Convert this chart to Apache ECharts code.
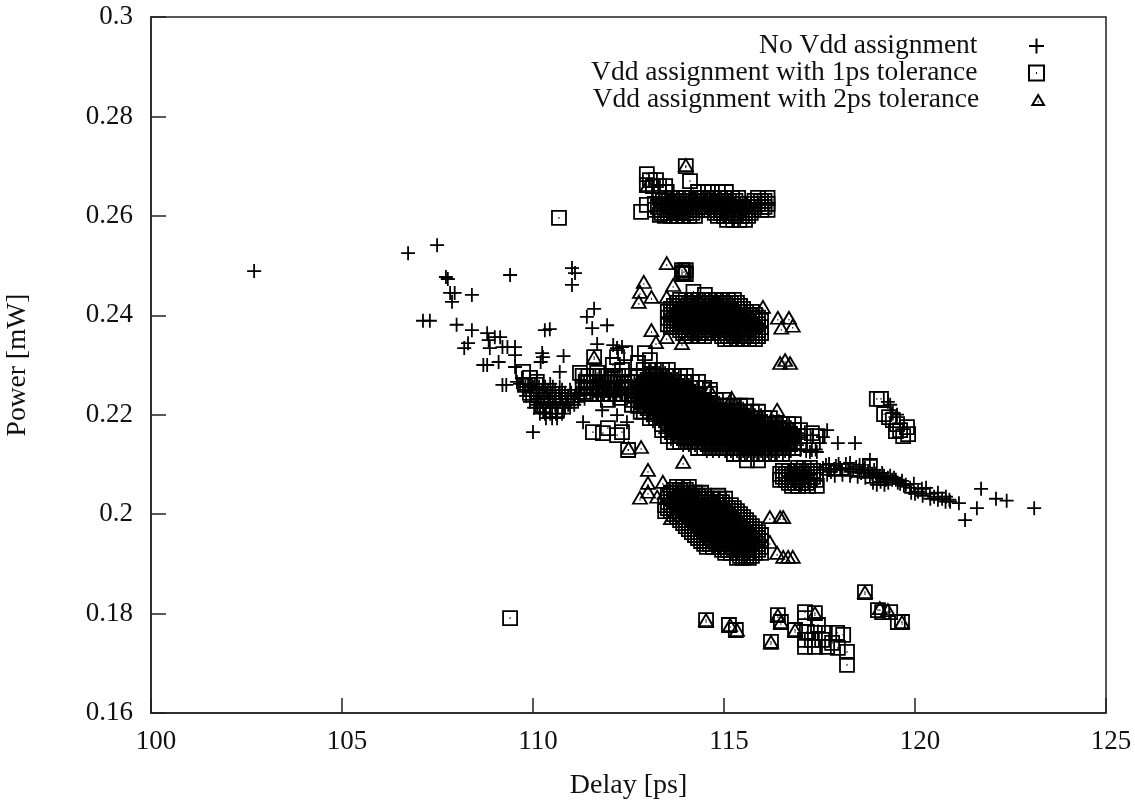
<!DOCTYPE html>
<html><head><meta charset="utf-8">
<style>html,body{margin:0;background:#fff}#c{width:1135px;height:801px}</style>
<script src="https://cdn.jsdelivr.net/npm/echarts@6/dist/echarts.min.js"></script></head>
<body><div id="c"></div>
<script>
const xTitle='Delay [ps]', yTitle='Power [mW]';
const names=['No Vdd assignment','Vdd assignment with 1ps tolerance','Vdd assignment with 2ps tolerance'];
// sparse readings: [delay, power]
const plusSparse=[[102.7,.2489],[106.73,.2525],[107.49,.2541],[107.72,.2477],[107.77,.2473],[107.83,.2445],[108.4,.2441],[107.88,.2427],[107.95,.2445],[107.12,.2389],[107.3,.2389],[108,.2381],[108.4,.237],[108.3,.2344],[108.2,.2334],[108.8,.2364],[108.84,.235],[109,.2356],[109.14,.2356],[108.87,.2334],[109.4,.2481],[111.02,.2495],[111.1,.2485],[111.02,.2461],[110.31,.237],[110.44,.2372],[111.6,.2413],[111.41,.2397],[111.55,.2374],[111.94,.238],[111.68,.2342],[112.1,.234],[112.33,.2336],[109.53,.2336],[109.53,.232],[109.2,.2336],[109.33,.2336],[109.1,.2306],[108.7,.23],[108.8,.23],[109.53,.2296],[110.24,.2324],[110.26,.2316],[110.2,.2306],[110.8,.2318],[110.7,.2286],[109.2,.226],[109.3,.226],[109.58,.2266],[110,.2165],[111.31,.2185],[111.81,.2209],[112.46,.2185],[112.2,.2199],[112.2,.2334],[117.7,.2169],[117.59,.2155],[117.98,.2143],[118.43,.2143],[117.25,.2125],[117.43,.2125],[117.51,.2143],[117.33,.2159],[117,.2129],[117.15,.2127],[117.3,.2129],[117.4,.213],[119.29,.2226],[119.35,.222],[119.42,.2204],[119.53,.22],[121.15,.2022],[120.92,.2025],[121.31,.1988],[121.62,.2012],[121.73,.2051],[122.12,.2031],[122.4,.2027],[123.12,.2012]];
const plusTail=[[117.51,.2089],[117.67,.2099],[117.8,.2085],[117.93,.2097],[118.09,.2089],[118.19,.2101],[118.32,.2085],[118.46,.2095],[118.59,.2083],[118.69,.2093],[118.82,.2109],[118.82,.2077],[118.93,.2089],[119.03,.2073],[119.14,.2083],[119.24,.2069],[119.35,.2077],[119.45,.2073],[119.55,.2063],[119.66,.2067],[119.76,.2059],[119.87,.2053],[119.97,.2061],[120.08,.2045],[120.18,.2051],[120.29,.2053],[120.39,.2041],[120.5,.2035],[120.6,.2043],[120.71,.2031],[120.81,.2035],[117.59,.2093],[117.75,.2089],[117.88,.2091],[118.04,.2093],[118.25,.2091],[118.38,.2091],[118.54,.2089],[118.65,.2089],[118.77,.2087],[118.88,.2081],[118.98,.2081],[119.08,.2077],[119.19,.2077],[119.29,.2073],[119.4,.2069],[119.5,.2069],[119.61,.2061],[119.71,.2057],[118.9,.2063],[119,.2059],[119.1,.2065],[119.2,.2059],[119.3,.2063],[119.9,.2043],[120,.2041],[120.2,.2037],[120.4,.2031],[120.6,.2029],[120.8,.2025],[120.9,.2029],[117.75,.2101],[118,.2101],[118.3,.2103],[118.55,.2099],[117.7,.2079],[117.9,.2077],[118.1,.2079],[118.3,.2077],[118.5,.2075],[118.7,.2073]];
// dense readings: [power, delay, delay, ...]
const plusBandRows=[[.2274,109.71,109.92,110.1],[.2262,109.66,109.87,110.05,110.26,110.45],[.2256,109.8,110,110.16,110.32,110.52,110.7,111.4,111.55,111.7,111.86,112,112.16,112.31],[.225,109.76,109.92,110.08,110.24,110.39,110.58,110.76,110.97],[.2244,110.02,110.18,110.35,110.5,110.68,110.84,111,111.15,111.4,111.55,111.7,111.86,112,112.16,112.31,112.47],[.2238,109.82,109.95,110.1,110.29,110.45,110.6,110.76,110.92,111.1,111.23],[.2232,110.15,110.3,110.42,110.57,110.72,110.9,111.05,111.2,111.35],[.2226,109.92,110.08,110.21,110.39,110.52,110.71,110.86,110.99,111.18],[.222,110.12,110.27,110.44,110.58,110.78,110.92,111.08],[.2214,110.03,110.18,110.34,110.5,110.65,110.84,110.97],[.2202,110.18,110.31,110.45,110.6,110.76],[.2193,110.34,110.5,110.63]];
const plusMainRows=[[.2284,112.98,113.14,113.3,113.46],[.2272,112.82,112.98,113.14,113.3,113.46,113.61,113.77],[.226,112.67,112.82,112.98,113.14,113.3,113.46,113.61,113.77,113.93,114.08],[.2248,112.67,112.82,112.98,113.14,113.3,113.46,113.61,113.77,113.93,114.08,114.24],[.2236,112.67,112.82,112.98,113.14,113.3,113.46,113.61,113.77,113.93,114.08,114.24,114.4],[.2224,112.67,112.82,112.98,113.14,113.3,113.46,113.61,113.77,113.93,114.08,114.24,114.4,114.55,114.71,114.87],[.2212,112.82,112.98,113.14,113.3,113.46,113.61,113.77,113.93,114.08,114.24,114.4,114.55,114.71,114.87,115.03,115.18,115.34,115.5],[.2199,112.98,113.14,113.3,113.46,113.61,113.77,113.93,114.08,114.24,114.4,114.55,114.71,114.87,115.03,115.18,115.34,115.5,115.65,115.81,115.97],[.2187,113.14,113.3,113.46,113.61,113.77,113.93,114.08,114.24,114.4,114.55,114.71,114.87,115.03,115.18,115.34,115.5,115.65,115.81,115.97,116.13,116.28,116.44],[.2175,113.46,113.61,113.77,113.93,114.08,114.24,114.4,114.55,114.71,114.87,115.03,115.18,115.34,115.5,115.65,115.81,115.97,116.13,116.28,116.44,116.6,116.75],[.2163,113.46,113.61,113.77,113.93,114.08,114.24,114.4,114.55,114.71,114.87,115.03,115.18,115.34,115.5,115.65,115.81,115.97,116.13,116.28,116.44,116.6,116.75,116.91],[.2151,113.61,113.77,113.93,114.08,114.24,114.4,114.55,114.71,114.87,115.03,115.18,115.34,115.5,115.65,115.81,115.97,116.13,116.28,116.44,116.6,116.75,116.91],[.2139,113.93,114.08,114.24,114.4,114.55,114.71,114.87,115.03,115.18,115.34,115.5,115.65,115.81,115.97,116.13,116.28,116.44,116.6,116.75,116.91],[.2127,114.55,114.71,114.87,115.03,115.18,115.34,115.5,115.65,115.81,115.97,116.13,116.28,116.44,116.6,116.75]];
const squareSparse=[[110.68,.2596],[109.4,.1791],[112.98,.2684],[112.98,.2662],[114,.27],[114.11,.267],[112.83,.2608],[112.98,.2622],[113.32,.2602],[113.9,.2491],[114,.2491],[113.95,.2487],[113.9,.2483],[114,.2483],[114.2,.2447],[114.5,.2441],[109.74,.2286],[109.92,.2274],[109.79,.226],[110.1,.2266],[109.92,.2244],[110.45,.2209],[110.63,.2209],[110.26,.2219],[114.53,.1787],[115.13,.1777],[115.31,.1767],[116.23,.1743],[116.41,.1797],[116.49,.1783],[117.12,.1803],[117.38,.1801],[116.86,.1767],[117.12,.1791],[117.17,.1763],[117.12,.1733],[117.38,.1761],[117.38,.1733],[117.64,.1761],[117.7,.1733],[117.96,.1761],[118.12,.1757],[117.98,.1731],[118.22,.1723],[118.22,.1697],[117.57,.1747],[117.83,.1741],[117.3,.1747],[117.12,.1747],[117.46,.1777],[118.69,.1843],[119.03,.1807],[119.14,.1803],[119.35,.1803],[119.55,.1783],[119.66,.1783],[111.6,.2316],[112.2,.2316],[112.41,.2324],[112.93,.2324],[111.23,.2284],[111.41,.2264],[111.68,.2284],[111.94,.2266],[112.15,.2276],[112.33,.229],[111.75,.225],[112.09,.225],[112.41,.2256],[111.96,.223],[112.28,.2234],[112.59,.222],[112.75,.2304],[113.06,.231],[112.09,.23],[111.57,.2165],[111.96,.2173],[112.33,.2165],[112.2,.2159],[112.49,.2129],[111.83,.2163],[119,.2232],[119.11,.2232],[119.19,.2201],[119.32,.2195],[119.42,.2189],[119.53,.2181],[119.61,.2169],[119.79,.2175],[119.82,.2161],[119.69,.2157],[119.5,.2167],[118.82,.2097],[114.63,.2250],[117.15,.2157],[117.3,.2163],[117.45,.2157]];
const squareLeftRows=[[.2278,111.3,111.45,111.6,111.76,111.92,112.08,112.23,112.39],[.2266,111.38,111.52,111.68,111.84,112,112.16,112.31,112.47],[.2254,111.3,111.45,111.6,111.76,111.92,112.08,112.23,112.39],[.2242,111.38,111.52,111.68,111.84,112,112.16,112.31,112.47]];
const squareTopRows=[[.2672,113.06,113.22],[.266,113.14,113.3,113.46],[.2648,113.3,113.5,114.32,114.58,114.84,115.05],[.2636,113.32,113.48,113.64,113.8,113.95,114.11,114.27,114.43,114.58,114.74,114.9,115.05,115.21,115.37,115.89,116.14],[.263,113.4,113.56,113.72,113.88,114.03,114.19,114.35,114.5,114.66,114.82,114.98,115.13,115.3,115.8,115.97,116.06],[.2624,113.19,113.35,113.51,113.67,113.83,113.98,114.14,114.3,114.45,114.61,114.77,114.93,115.09,115.24,115.4,115.72,115.89,116.14],[.2618,113.27,113.43,113.59,113.75,113.9,114.06,114.22,114.37,114.53,114.69,114.85,115.01,115.16,115.32,115.48,115.64,115.8,115.98,116.06],[.2612,113.19,113.35,113.51,113.67,113.83,113.98,114.14,114.3,114.45,114.61,114.77,114.93,115.09,115.24,115.4,115.55,115.72,115.98,116.14],[.2606,113.37,113.53,113.69,113.85,114.01,114.17,114.76,114.92,115.08,115.24,115.4,115.55,115.7],[.26,113.45,113.61,113.77,113.93,114.09,114.24,114.84,115,115.16,115.31,115.47,115.63],[.2592,115.08,115.24,115.4,115.55]];
const squareUpperRows=[[.2431,113.85,114,114.16,114.32,114.48,114.63,114.79,114.95,115.1,115.26],[.2425,113.77,113.93,114.08,114.24,114.4,114.55,114.71,114.87,115.03,115.18,115.34],[.2419,113.69,113.85,114,114.16,114.32,114.48,114.63,114.79,114.95,115.1,115.26,115.42],[.2413,113.61,113.77,113.93,114.08,114.24,114.4,114.55,114.71,114.87,115.03,115.18,115.34,115.5],[.2407,113.53,113.69,113.85,114,114.16,114.32,114.48,114.63,114.79,114.95,115.1,115.26,115.42,115.58,115.73],[.2401,113.61,113.77,113.93,114.08,114.24,114.4,114.55,114.71,114.87,115.03,115.18,115.34,115.5,115.65,115.81],[.2395,113.53,113.69,113.85,114,114.16,114.32,114.48,114.63,114.79,114.95,115.1,115.26,115.42,115.58,115.73,115.89],[.2389,113.61,113.77,113.93,114.08,114.24,114.4,114.55,114.71,114.87,115.03,115.18,115.34,115.5,115.65,115.81,115.97],[.2382,113.53,113.69,113.85,114,114.16,114.32,114.48,114.63,114.79,114.95,115.1,115.26,115.42,115.58,115.73,115.89],[.2376,113.61,113.77,113.93,114.08,114.24,114.4,114.55,114.71,114.87,115.03,115.18,115.34,115.5,115.65,115.81,115.97],[.237,113.85,114,114.16,114.32,114.48,114.63,114.79,114.95,115.1,115.26,115.42,115.58,115.73,115.89],[.2364,113.93,114.08,114.24,114.4,114.55,114.71,114.87,115.03,115.18,115.34,115.5,115.65,115.81,115.97],[.2358,114,114.16,114.32,114.48,114.95,115.1,115.26,115.42,115.58,115.73,115.89],[.2352,115.03,115.18,115.34,115.5,115.65,115.81]];
const squareMainRows=[[.229,112.9,113.06,113.22,113.38,113.53],[.2278,112.75,112.9,113.06,113.22,113.38,113.53,113.69,113.85,114],[.2266,112.59,112.75,112.9,113.06,113.22,113.38,113.53,113.69,113.85,114,114.16,114.32],[.2254,112.59,112.75,112.9,113.06,113.22,113.38,113.53,113.69,113.85,114,114.16,114.32,114.48],[.2242,112.59,112.75,112.9,113.06,113.22,113.38,113.53,113.69,113.85,114,114.16,114.32,114.48,114.63],[.223,112.59,112.75,112.9,113.06,113.22,113.38,113.53,113.69,113.85,114,114.16,114.32,114.48,114.63,114.79,115],[.2218,112.75,112.9,113.06,113.22,113.38,113.53,113.69,113.85,114,114.16,114.32,114.48,114.63,114.79,114.95,115.1,115.26,115.42,115.58],[.2206,112.82,112.9,113.06,113.22,113.38,113.53,113.69,113.85,114,114.16,114.32,114.48,114.63,114.79,114.95,115.1,115.26,115.42,115.58,115.73,115.89],[.2193,113.06,113.22,113.38,113.53,113.69,113.85,114,114.16,114.32,114.48,114.63,114.79,114.95,115.1,115.26,115.42,115.58,115.73,115.89,116.05,116.2],[.2181,113.38,113.53,113.69,113.85,114,114.16,114.32,114.48,114.63,114.79,114.95,115.1,115.26,115.42,115.58,115.73,115.89,116.05,116.2,116.36,116.52,116.68,116.83],[.2169,113.38,113.53,113.69,113.85,114,114.16,114.32,114.48,114.63,114.79,114.95,115.1,115.26,115.42,115.58,115.73,115.89,116.05,116.2,116.36,116.52,116.68,116.83,116.99],[.2157,113.53,113.69,113.85,114,114.16,114.32,114.48,114.63,114.79,114.95,115.1,115.26,115.42,115.58,115.73,115.89,116.05,116.2,116.36,116.52,116.68,116.83,116.99],[.2145,113.69,113.85,114,114.16,114.32,114.48,114.63,114.79,114.95,115.1,115.26,115.42,115.58,115.73,115.89,116.05,116.2,116.36,116.52,116.68,116.83,116.99],[.2133,114.32,114.48,114.63,114.79,114.95,115.1,115.26,115.42,115.58,115.73,115.89,116.05,116.2,116.36,116.52,116.68,116.83],[.2121,115.26,115.42,115.58,115.73,115.89,116.05,116.2,116.36,116.52],[.2108,115.6,115.89]];
const squareLowerRows=[[.2055,113.77,113.93,114.08],[.2049,113.69,113.85,114],[.2043,113.61,113.77,113.93,114.08,114.24,114.4],[.2037,113.53,113.69,113.85,114,114.16,114.32,114.48,114.85],[.2031,113.61,113.77,113.93,114.08,114.24,114.4,114.55,114.71,114.87,115.03],[.2024,113.53,113.69,113.85,114,114.16,114.32,114.48,114.63,114.79,114.95],[.2018,113.46,113.61,113.77,113.93,114.08,114.24,114.4,114.55,114.71,114.87,115.03,115.18],[.2012,113.53,113.69,113.85,114,114.16,114.32,114.48,114.63,114.79,114.95,115.1,115.26],[.2006,113.46,113.61,113.77,113.93,114.08,114.24,114.4,114.55,114.71,114.87,115.03,115.18,115.34],[.2,113.69,113.85,114,114.16,114.32,114.48,114.63,114.79,114.95,115.1,115.26,115.42],[.1994,113.77,113.93,114.08,114.24,114.4,114.55,114.71,114.87,115.03,115.18,115.34,115.5],[.1988,113.85,114,114.16,114.32,114.48,114.63,114.79,114.95,115.1,115.26,115.42,115.58],[.1982,113.93,114.08,114.24,114.4,114.55,114.71,114.87,115.03,115.18,115.34,115.5,115.65],[.1976,114,114.16,114.32,114.48,114.63,114.79,114.95,115.1,115.26,115.42,115.58,115.73],[.197,114.08,114.24,114.4,114.55,114.71,114.87,115.03,115.18,115.34,115.5,115.65,115.81],[.1964,114.16,114.32,114.48,114.63,114.79,114.95,115.1,115.26,115.42,115.58,115.73,115.89],[.1958,114.24,114.4,114.55,114.71,114.87,115.03,115.18,115.34,115.5,115.65,115.81,115.97],[.1952,114.32,114.48,114.63,114.79,114.95,115.1,115.26,115.42,115.58,115.73,115.89],[.1946,114.4,114.55,114.71,114.87,115.03,115.18,115.34,115.5,115.65,115.81,115.97],[.194,114.48,114.63,114.79,114.95,115.1,115.26,115.42,115.58,115.73,115.89],[.1934,114.55,114.71,114.87,115.03,115.18,115.34,115.5,115.65,115.81,115.97],[.1928,114.95,115.1,115.26,115.42,115.58,115.73,115.89],[.1922,115.03,115.18,115.34,115.5,115.65,115.81,115.97],[.1916,115.42,115.58,115.73],[.1912,115.34,115.5,115.65]];
const squareTailRows=[[.2093,116.94,117.09,117.25],[.2087,116.54,116.7,116.86,117.02,117.17,117.33],[.2081,116.47,116.62,116.78,116.94,117.09,117.25,117.41],[.2075,116.54,116.7,116.86,117.02,117.17,117.33],[.2069,116.47,116.62,116.78,116.94,117.09,117.25,117.41],[.2063,116.7,116.86,117.02,117.17],[.2057,116.78,116.94,117.2,117.43]];
const triangleSparse=[[113.5,.2505],[112.9,.2467],[112.8,.2447],[112.77,.2427],[113.1,.2437],[113.1,.237],[113.22,.2346],[113.5,.2356],[113.9,.2344],[116.02,.2417],[116.41,.2395],[116.7,.2395],[116.5,.2375],[116.8,.2379],[113.67,.2461],[113.9,.2491],[113.5,.2437],[114,.2702],[114.5,.2616],[114.2,.2638],[113,.2662],[116.6,.231],[116.47,.2304],[116.73,.2304],[114.63,.225],[115.2,.2234],[116.39,.221],[111.6,.2316],[112.83,.2135],[112.5,.2133],[113.01,.2089],[113.01,.2063],[113.4,.2065],[113.01,.2045],[112.8,.2033],[113.25,.2035],[113.46,.2043],[113.61,.1992],[113.93,.2105],[116.2,.1994],[116.47,.1994],[116.55,.1994],[116.2,.1944],[116.39,.1922],[116.68,.1914],[116.55,.1914],[116.8,.1914],[114.53,.1787],[115.16,.1777],[115.34,.1767],[116.23,.1743],[116.41,.1797],[116.49,.1783],[117.38,.1801],[116.86,.1767],[118.69,.1843],[119.08,.1811],[119.29,.1807],[119.66,.1783]];

const expand=rows=>rows.flatMap(r=>r.slice(1).map(x=>[x,r[0]]));
const plusData=[...plusSparse,...plusTail,...expand(plusBandRows),...expand(plusMainRows)];
const squareData=[...squareSparse,...[squareLeftRows,squareTopRows,squareUpperRows,squareMainRows,squareLowerRows,squareTailRows].flatMap(expand)];
const triangleData=triangleSparse;

const font='"Liberation Serif"', fs=27, ink='#111';
const mark={color:'transparent',borderColor:'#000',borderWidth:1.8,opacity:1};
const sym=['path://M7,0V14M0,7H14','path://M0,0H14V14H0ZM6.5,7H7.5','path://M7,0L14,12H0ZM6.5,8H7.5'];
const sizes=[14,14,[14,12]], legendTop=[32,59,86], legendIcon=[15,15,10];
const datas=[plusData,squareData,triangleData];
const chart=echarts.init(document.getElementById('c'),null,{renderer:'canvas'});
chart.setOption({
 animation:false,backgroundColor:'#fff',
 grid:{left:151,right:29,top:17,bottom:88,outerBoundsMode:'none',show:true,borderColor:'#222',borderWidth:1.5,backgroundColor:'transparent'},
 legend:names.map((n,i)=>({data:[n],orient:'vertical',align:'right',right:90,top:legendTop[i],padding:0,itemWidth:108,itemHeight:legendIcon[i],selectedMode:false,
   textStyle:{fontFamily:font,fontSize:27.5,color:ink}})),
 xAxis:{type:'value',min:100,max:125,interval:5,splitLine:{show:false},name:xTitle,nameLocation:'middle',nameGap:59,
   nameTextStyle:{fontFamily:font,fontSize:28,color:ink},
   axisLine:{lineStyle:{color:'#222',width:1.5}},axisTick:{inside:true,length:15,lineStyle:{color:'#222',width:1.5}},
   axisLabel:{fontFamily:font,fontSize:fs,color:ink,margin:15,padding:[0,0,0,10],showMinLabel:true,showMaxLabel:true}},
 yAxis:{type:'value',min:0.16,max:0.3,interval:0.02,splitLine:{show:false},name:yTitle,nameLocation:'middle',nameGap:119,
   nameTextStyle:{fontFamily:font,fontSize:27.5,color:ink},
   axisLine:{show:true,lineStyle:{color:'#222',width:1.5}},axisTick:{show:true,inside:true,length:15,lineStyle:{color:'#222',width:1.5}},
   axisLabel:{fontFamily:font,fontSize:fs,color:ink,margin:18,showMinLabel:true,showMaxLabel:true}},
 series:names.map((n,i)=>({name:n,type:'scatter',data:datas[i],symbol:sym[i],symbolSize:sizes[i],itemStyle:mark,silent:true,large:false,progressive:0,z:2+i,emphasis:{disabled:true}}))
});
</script></body></html>
